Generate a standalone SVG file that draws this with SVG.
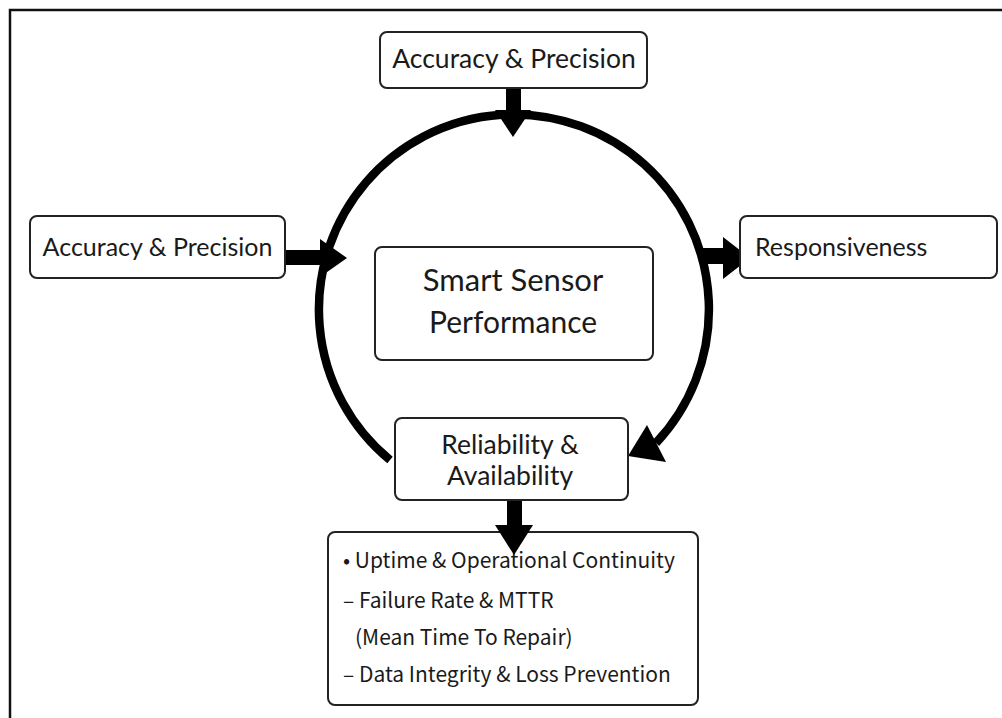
<svg xmlns="http://www.w3.org/2000/svg" width="1002" height="718" viewBox="0 0 1002 718">
<style>
.box{fill:#fff;stroke:#222;stroke-width:2;}
.lbl{font-family:Lato,"Noto Sans",sans-serif;fill:#1a1a1a;text-anchor:middle;}
.lst{font-family:"Noto Sans CJK KR","Noto Sans",sans-serif;fill:#1a1a1a;font-size:21px;}
.ring{fill:none;stroke:#000;stroke-width:8.5;}
.arr{fill:#000;stroke:none;}
</style>
<rect width="1002" height="718" fill="#fff"/>
<path d="M10,718 V10 H1002" fill="none" stroke="#111" stroke-width="2.5"/>
<g id="connectors">
<path class="ring" d="M390,460 A195,195 0 1 1 656,443"/>
<polygon class="arr" points="628,456 647,425 666,462"/>
<rect class="arr" x="506" y="88" width="15" height="24"/>
<polygon class="arr" points="495,110 531,110 513,137"/>
<rect class="arr" x="284" y="250" width="38" height="15"/>
<polygon class="arr" points="320,239 347,258 320,277"/>
<rect class="arr" x="700" y="248" width="25" height="16"/>
<polygon class="arr" points="723,237 750,258 723,279"/>
<rect class="arr" x="507" y="500" width="15" height="27"/>
</g>
<g id="node-top">
<rect class="box" x="380" y="32" width="267" height="56" rx="7"/>
<text class="lbl" x="514" y="68" font-size="26.5">Accuracy &amp; Precision</text>
</g>
<g id="node-left">
<rect class="box" x="30" y="216" width="255" height="62" rx="7"/>
<text class="lbl" x="157.5" y="256" font-size="25">Accuracy &amp; Precision</text>
</g>
<g id="node-right">
<rect class="box" x="740" y="216" width="257" height="62" rx="7"/>
<text class="lbl" x="755" y="256" font-size="25" style="text-anchor:start">Responsiveness</text>
</g>
<g id="node-center">
<rect class="box" x="375" y="247" width="278" height="113" rx="7"/>
<text class="lbl" x="513" y="291" font-size="31">Smart Sensor</text>
<text class="lbl" x="513" y="333" font-size="30">Performance</text>
</g>
<g id="node-reliability">
<rect class="box" x="395" y="418" width="233" height="82" rx="7"/>
<text class="lbl" x="510" y="454" font-size="26.5">Reliability &amp;</text>
<text class="lbl" x="510" y="485" font-size="26.5">Availability</text>
</g>
<g id="node-details">
<rect class="box" x="328" y="532" width="370" height="173" rx="7"/>
<text class="lst" x="343" y="568">• Uptime &amp; Operational Continuity</text>
<text class="lst" x="343" y="608">– Failure Rate &amp; MTTR</text>
<text class="lst" x="355" y="645">(Mean Time To Repair)</text>
<text class="lst" x="343" y="682">– Data Integrity &amp; Loss Prevention</text>
</g>
<polygon class="arr" points="495,525 533,525 514,555"/>
</svg>
